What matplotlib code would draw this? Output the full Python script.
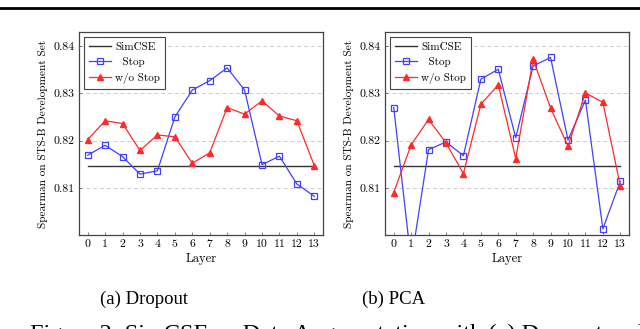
import matplotlib
matplotlib.use("Agg")
import matplotlib.pyplot as plt
from matplotlib.lines import Line2D

layers = list(range(14))
simcse = 0.8147

dropout_stop = [0.8169, 0.8190, 0.8166, 0.8129, 0.8136, 0.8250, 0.8307,
                0.8327, 0.8354, 0.8307, 0.8149, 0.8167, 0.8108, 0.8082]
dropout_wo = [0.8202, 0.8242, 0.8236, 0.8179, 0.8212, 0.8208, 0.8152,
              0.8174, 0.8270, 0.8256, 0.8284, 0.8252, 0.8242, 0.8147]

pca_stop = [0.8270, 0.7943, 0.8181, 0.8197, 0.8168, 0.8330, 0.8351,
            0.8206, 0.8358, 0.8376, 0.8201, 0.8286, 0.8013, 0.8114]
pca_wo = [0.8090, 0.8191, 0.8245, 0.8195, 0.8130, 0.8277, 0.8318,
          0.8162, 0.8372, 0.8269, 0.8188, 0.8301, 0.8281, 0.8104]

yticks = [0.81, 0.82, 0.83, 0.84]
ytick_labels = ["0.81", "0.82", "0.83", "0.84"]
subcaptions = ["(a) Dropout", "(b) PCA"]
ylabel = "Spearman on STS-B Development Set"
xlabel = "Layer"
legend_labels = ["SimCSE", "  Stop", "w/o Stop"]
caption = "Figure 2: SimCSE w. Data Augmentation with (a) Dropout and (b) PCA"

BLUE = "#4040ff"
RED = "#ff2a2a"
AX_FONT = "cmr10"
CAP_FONT = "Liberation Serif"

fig = plt.figure(figsize=(6.4, 3.29), dpi=100)

W, H = 640.0, 329.0
def ax_rect(x0, x1, ytop, ybot):
    return [x0 / W, 1 - ybot / H, (x1 - x0) / W, (ybot - ytop) / H]

rects = [ax_rect(79, 323, 32, 235), ax_rect(385, 629, 32, 235)]
datasets = [(dropout_stop, dropout_wo), (pca_stop, pca_wo)]
sub_x = [144, 394]

for rect, (stop, wo), sub, sx in zip(rects, datasets, subcaptions, sub_x):
    ax = fig.add_axes(rect)
    l0, = ax.plot([layers[0], layers[-1]], [simcse, simcse], color="#333333", lw=1.0)
    l1, = ax.plot(layers, stop, color=BLUE, lw=0.9, marker="s", markersize=5,
                  markerfacecolor="none", markeredgecolor=BLUE, markeredgewidth=0.9)
    l2, = ax.plot(layers, wo, color=RED, lw=0.9, marker="^", markersize=4,
                  markerfacecolor=RED, markeredgecolor=RED)
    ax.set_xlim(-0.5, 13.5)
    ax.set_ylim(0.800, 0.843)
    ax.set_xticks(layers)
    ax.set_xticklabels([str(v) for v in layers], fontfamily=AX_FONT, fontsize=8.5)
    ax.set_yticks(yticks)
    ax.set_yticklabels(ytick_labels, fontfamily=AX_FONT, fontsize=8.5)
    ax.tick_params(direction="in", length=2.5, width=0.5, color="#555555", pad=3)
    ax.yaxis.grid(True, linestyle=(0, (4, 3)), color="#cccccc", lw=0.7)
    ax.set_axisbelow(True)
    for s in ax.spines.values():
        s.set_color("#444444")
        s.set_linewidth(0.9)
    ax.set_xlabel(xlabel, fontfamily=AX_FONT, fontsize=9, labelpad=3)
    ax.set_ylabel(ylabel, fontfamily=AX_FONT, fontsize=8.1, labelpad=4)
    leg = ax.legend([l0, l1, l2], legend_labels, loc="upper left",
                    prop={"family": AX_FONT, "size": 8}, fancybox=False,
                    edgecolor="#444444", framealpha=1, handlelength=2.0,
                    borderaxespad=0.45, labelspacing=0.5, borderpad=0.45,
                    handletextpad=0.35)
    leg.get_frame().set_linewidth(0.8)
    fig.text(sx / W, 1 - 299 / H, sub, ha="center", va="center",
             fontfamily=CAP_FONT, fontsize=13.5)

# top rule
fig.add_artist(Line2D([0, 1], [1 - 7.5 / H, 1 - 7.5 / H], color="black", lw=2.0,
                      transform=fig.transFigure))
# partially visible caption at bottom (cut off as in the source page)
fig.text(30 / W, 1 - 340 / H, caption, ha="left", va="baseline",
         fontfamily=CAP_FONT, fontsize=17.5)

fig.savefig("out.png", dpi=100)
